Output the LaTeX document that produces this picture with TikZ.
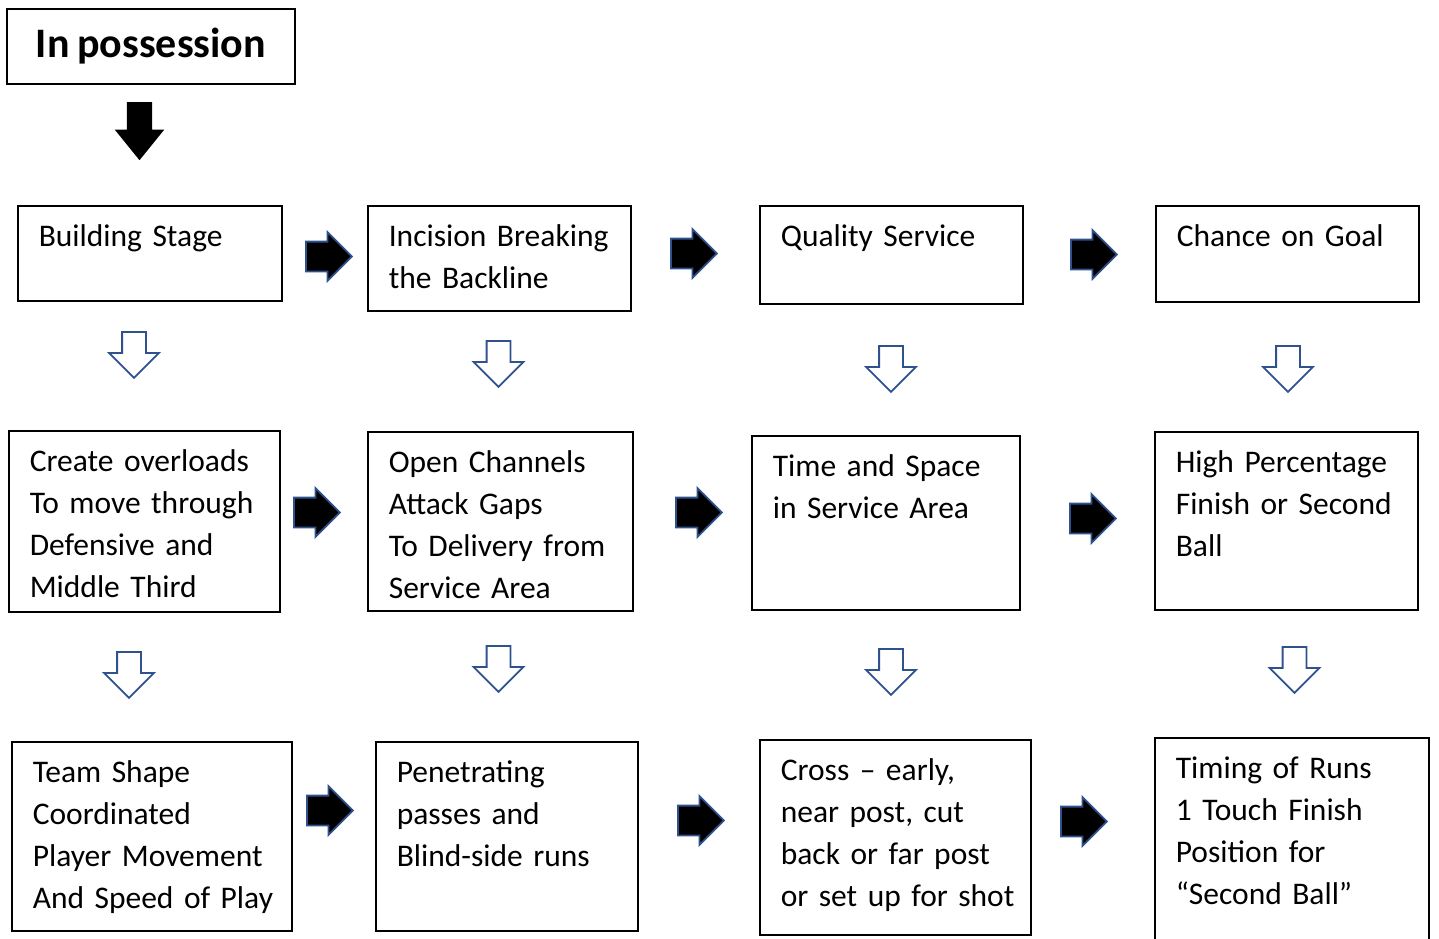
\documentclass[tikz,border=0pt]{standalone}
\usepackage{fontspec}
\setmainfont[WordSpace=0.8]{Carlito}
\usetikzlibrary{shapes.arrows}
\definecolor{arrowblue}{HTML}{2F528F}
\tikzset{
  box/.style={draw, line width=1.6, anchor=north west, align=left, inner xsep=21, inner ysep=0,
    text height=41, font=\fontsize{31.5}{42}\selectfont},
  rarrow/.style={single arrow, draw=arrowblue, fill=black, line width=1.8, inner xsep=0, inner ysep=14,
    minimum height=46, single arrow head extend=9.5, anchor=tail},
  darrow/.style={single arrow, draw=arrowblue, fill=white, line width=1.8, inner xsep=0, inner ysep=11,
    minimum height=46, single arrow head extend=13, rotate=-90, anchor=tail},
}
\begin{document}
\begin{tikzpicture}[x=1pt, y=-1pt]
\useasboundingbox (0,0) rectangle (1439,938);
% title
\node[draw, line width=1.6, minimum width=288, minimum height=75, font=\bfseries\fontsize{42}{46}\selectfont] (title) at (151,46.5) {\raisebox{-2pt}{In possession}};
\node[single arrow, fill=black, inner xsep=0, inner ysep=12.5, minimum height=58,
  single arrow head extend=12, single arrow tip angle=78, rotate=-90, anchor=tail] (start) at (139.5,102) {};
% first row
\node[box, text width=222, text depth=54] (b1) at (17,205) {Building Stage};
\node[box, text width=221, text depth=64] (b2) at (367,205) {Incision Breaking\\the Backline};
\node[box, text width=221, text depth=57] (b3) at (759,205) {Quality Service};
\node[box, text width=221, text depth=55] (b4) at (1155,205) {Chance on Goal};
% second row
\node[box, text width=229, text depth=140] (c1) at (8,430) {Create overloads\\To move through\\Defensive and\\Middle Third};
\node[box, text width=223, text depth=138] (c2) at (367,431) {Open Channels\\Attack Gaps\\To Delivery from\\Service Area};
\node[box, text width=226, text depth=133] (c3) at (751,435) {Time and Space\\in Service Area};
\node[box, text width=221, text depth=137] (c4) at (1154,431) {High Percentage\\Finish or Second\\Ball};
% third row
\node[box, text width=238, text depth=148] (d1) at (11,741) {Team Shape\\Coordinated\\Player Movement\\\mbox{And Speed of Play}};
\node[box, text width=220, text depth=148] (d2) at (375,741) {Penetrating\\passes and\\Blind-side runs};
\node[box, text width=229, text depth=154] (d3) at (759,739) {Cross -- early,\\near post, cut\\back or far post\\\mbox{or set up for shot}};
\node[box, text width=232, text depth=189] (d4) at (1154,737) {Timing of Runs\\1 Touch Finish\\Position for\\``Second Ball''};
% arrows across
\node[rarrow] (b12) at (305,256.5) {};
\node[rarrow] (b23) at (670,253.5) {};
\node[rarrow] (b34) at (1070,254.5) {};
\node[rarrow] (c12) at (293,512.5) {};
\node[rarrow] (c23) at (675,512.5) {};
\node[rarrow] (c34) at (1069,518.5) {};
\node[rarrow] (d12) at (306,810.5) {};
\node[rarrow] (d23) at (677,820.5) {};
\node[rarrow] (d34) at (1060,821.5) {};
% arrows down
\node[darrow] (bc1) at (134,331) {};
\node[darrow] (bc2) at (498.5,340) {};
\node[darrow] (bc3) at (891,345) {};
\node[darrow] (bc4) at (1288,345) {};
\node[darrow] (cd1) at (129,651) {};
\node[darrow] (cd2) at (498.5,645) {};
\node[darrow] (cd3) at (891,648) {};
\node[darrow] (cd4) at (1294.5,646) {};
\end{tikzpicture}
\end{document}
